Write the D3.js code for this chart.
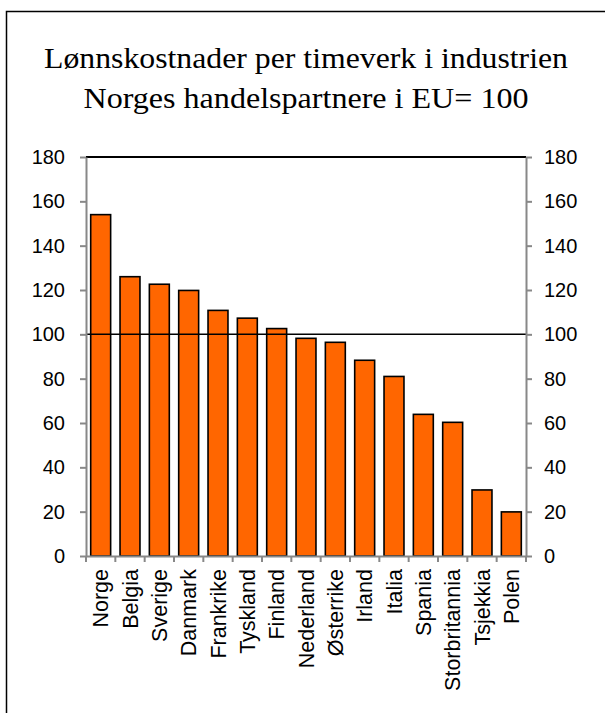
<!DOCTYPE html>
<html>
<head>
<meta charset="utf-8">
<style>
  body { margin: 0; background: #fff; }
  svg text { fill: #000; }
</style>
</head>
<body>
<svg width="605" height="713"></svg>
<script src="https://cdn.jsdelivr.net/npm/d3@7"></script>
<script>
    var countries = ["Norge", "Belgia", "Sverige", "Danmark", "Frankrike", "Tyskland", "Finland",
        "Nederland", "Østerrike", "Irland", "Italia", "Spania", "Storbritannia", "Tsjekkia", "Polen"];
    var values = [154, 126, 122.6, 119.8, 110.8, 107.3, 102.6, 98.2, 96.4, 88.3, 81, 63.9, 60.3, 29.8, 19.9];
    var yTicks = [0, 20, 40, 60, 80, 100, 120, 140, 160, 180];
    var titleLines = ["Lønnskostnader per timeverk i industrien", "Norges handelspartnere i EU= 100"];
</script>
<script>
    function makeBarChart() {
        var svg = d3.select("svg");

        var margin = { top: 157, right: 79, bottom: 157, left: 86 };
        var width = +svg.attr("width") - margin.left - margin.right;
        var height = +svg.attr("height") - margin.top - margin.bottom;

        // outer frame (right and bottom edges fall outside the picture)
        svg.append("rect")
            .attr("x", 6.5).attr("y", 11.5)
            .attr("width", 640).attr("height", 740)
            .attr("fill", "none")
            .attr("stroke", "#000")
            .attr("stroke-width", 1.5);

        var titleWidths = [524, 445];
        svg.append("g").selectAll("text")
            .data(titleLines)
            .enter().append("text")
            .attr("x", function(d, i) { return 306 - titleWidths[i] / 2; })
            .attr("y", function(d, i) { return 68 + i * 40; })
            .attr("textLength", function(d, i) { return titleWidths[i]; })
            .attr("lengthAdjust", "spacingAndGlyphs")
            .style("font-family", "'Liberation Serif', 'Times New Roman', serif")
            .style("font-size", "30px")
            .text(function(d) { return d; });

        var g = svg.append("g").attr("transform", "translate(" + margin.left + "," + margin.top + ")");

        var x = d3.scaleBand().domain(countries).range([0, width]).padding(0);
        var y = d3.scaleLinear().domain([0, 180]).range([height, 0]);
        var barW = x.bandwidth() * 0.68;

        g.selectAll(".bar")
            .data(countries)
            .enter().append("rect")
            .attr("class", "bar")
            .attr("x", function(d) { return x(d) + (x.bandwidth() - barW) / 2; })
            .attr("y", function(d, i) { return y(values[i]); })
            .attr("width", barW)
            .attr("height", function(d, i) { return y(0) - y(values[i]); })
            .attr("fill", "#ff6600")
            .attr("stroke", "#000")
            .attr("stroke-width", 1.6);

        // reference lines at 100 and 180
        g.append("line")
            .attr("x1", 0).attr("x2", width)
            .attr("y1", y(100)).attr("y2", y(100))
            .attr("stroke", "#000").attr("stroke-width", 1.5);
        g.append("line")
            .attr("x1", 0).attr("x2", width)
            .attr("y1", y(180)).attr("y2", y(180))
            .attr("stroke", "#000").attr("stroke-width", 2);

        var font = "'Liberation Sans', Arial, sans-serif";

        var yl = g.append("g")
            .call(d3.axisLeft(y).tickValues(yTicks).tickSize(6).tickPadding(15).tickSizeOuter(0));
        var yr = g.append("g")
            .attr("transform", "translate(" + width + ",0)")
            .call(d3.axisRight(y).tickValues(yTicks).tickSize(6).tickPadding(12).tickSizeOuter(0));

        var xa = g.append("g")
            .attr("transform", "translate(0," + height + ")")
            .call(d3.axisBottom(x).tickSize(0).tickSizeOuter(0));
        xa.selectAll("text")
            .attr("transform", "rotate(-90)")
            .attr("text-anchor", "end")
            .attr("x", -13)
            .attr("y", 0)
            .attr("dy", "0.35em");

        // category boundary ticks
        xa.selectAll(".edge")
            .data(d3.range(countries.length + 1))
            .enter().append("line")
            .attr("class", "edge")
            .attr("x1", function(i) { return i * x.step(); })
            .attr("x2", function(i) { return i * x.step(); })
            .attr("y1", 0).attr("y2", 6);

        [yl, yr, xa].forEach(function(a) {
            a.selectAll("path, line").attr("stroke", "#888").attr("stroke-width", 2);
            a.selectAll("text").style("font-family", font).style("font-size", "20px").attr("fill", "#000");
        });
        xa.selectAll("text").style("font-size", "21.5px");
    }

    makeBarChart();
</script>
</body>
</html>
